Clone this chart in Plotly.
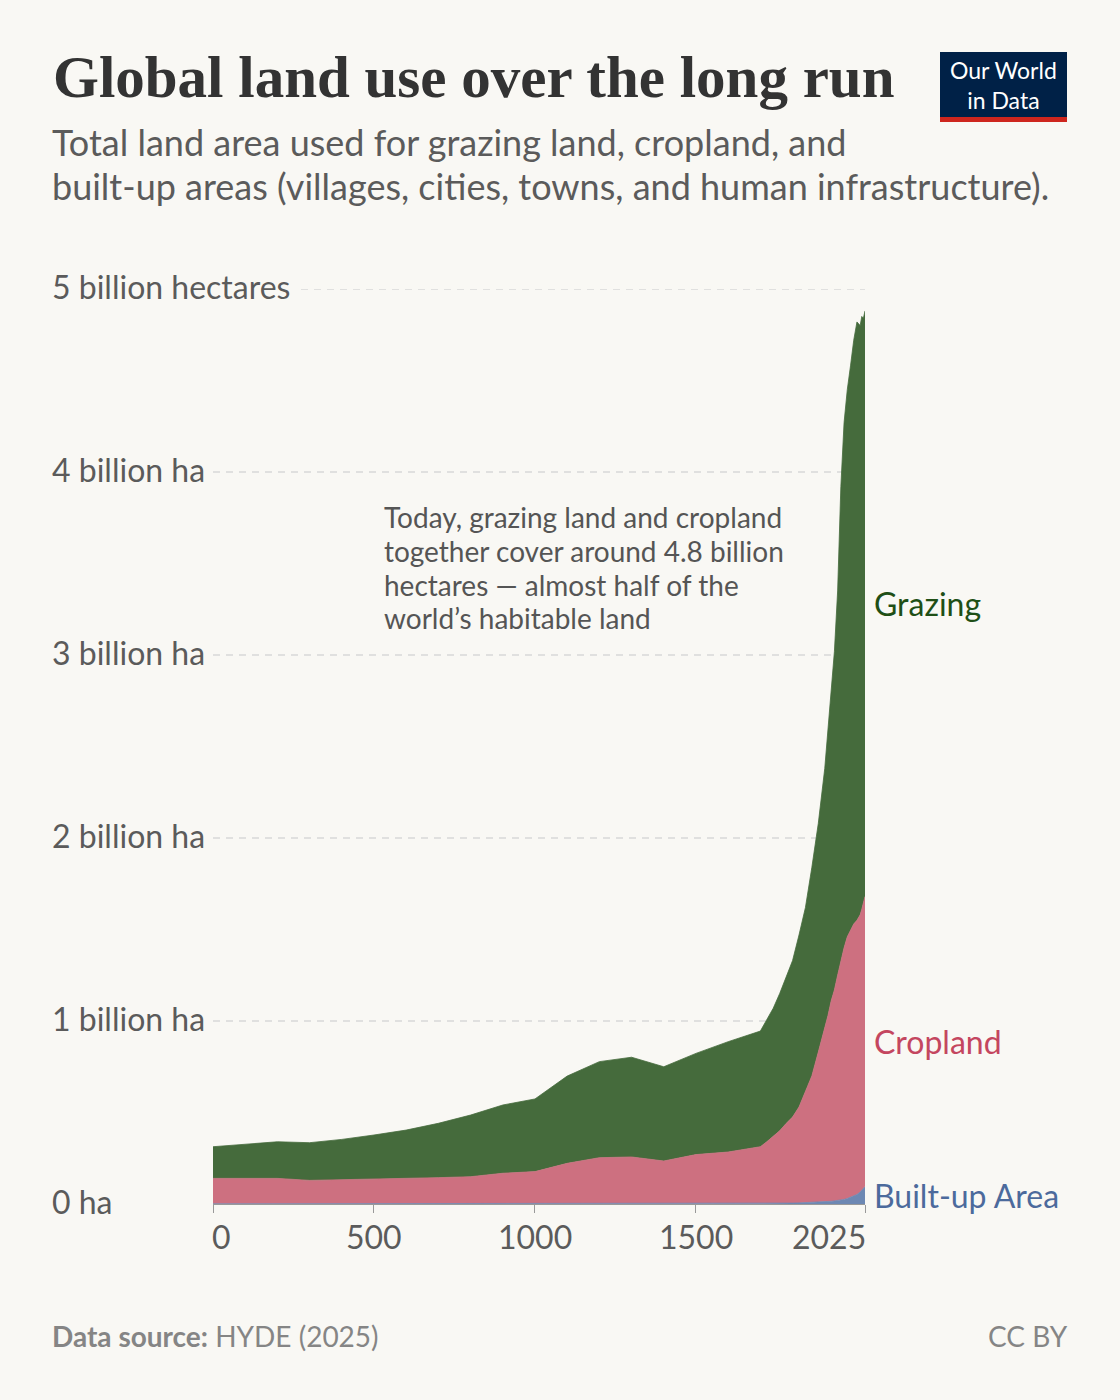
import plotly.graph_objects as go

# Years of the HYDE series
years = [0, 100, 200, 300, 400, 500, 600, 700, 800, 900, 1000, 1100, 1200,
         1300, 1400, 1500, 1600, 1700, 1720, 1740, 1760, 1780, 1800, 1820,
         1840, 1860, 1880, 1900, 1910, 1920, 1930, 1940, 1950, 1960, 1970,
         1980, 1990, 2000, 2010, 2015, 2020, 2025]

# Land area in billion hectares
built_up = [0.001, 0.001, 0.001, 0.001, 0.001, 0.001, 0.001, 0.001, 0.001,
            0.001, 0.001, 0.002, 0.002, 0.002, 0.002, 0.002, 0.002, 0.003,
            0.003, 0.003, 0.004, 0.004, 0.005, 0.006, 0.007, 0.008, 0.010,
            0.012, 0.013, 0.015, 0.017, 0.019, 0.021, 0.025, 0.030, 0.036,
            0.043, 0.052, 0.065, 0.074, 0.084, 0.095]
cropland = [0.139, 0.140, 0.139, 0.128, 0.131, 0.134, 0.138, 0.143, 0.148,
            0.167, 0.176, 0.220, 0.251, 0.255, 0.233, 0.268, 0.282, 0.310,
            0.337, 0.367, 0.396, 0.436, 0.470, 0.524, 0.603, 0.692, 0.820,
            0.948, 1.017, 1.095, 1.153, 1.231, 1.309, 1.375, 1.430, 1.464,
            1.487, 1.498, 1.515, 1.536, 1.556, 1.585]
grazing = [0.173, 0.187, 0.200, 0.206, 0.221, 0.242, 0.265, 0.297, 0.337,
           0.373, 0.397, 0.477, 0.525, 0.545, 0.515, 0.553, 0.603, 0.632,
           0.670, 0.700, 0.750, 0.800, 0.855, 0.940, 1.010, 1.140, 1.250,
           1.420, 1.550, 1.670, 1.850, 2.100, 2.590, 2.870, 2.990, 3.080,
           3.190, 3.270, 3.220, 3.240, 3.200, 3.200]

x_ticks = [0, 500, 1000, 1500, 2025]
y_ticks = [0, 1, 2, 3, 4, 5]
y_labels = ["0 ha", "1 billion ha", "2 billion ha", "3 billion ha",
            "4 billion ha", "5 billion hectares"]

BG = "#f9f8f4"
FONT = "Lato"
GREY = "#5b5b5b"

fig = go.Figure()
series = [
    ("Built-up Area", built_up, "#6d88b3", "#4c6a9c"),
    ("Cropland", cropland, "#cd7080", "#c4465f"),
    ("Grazing", grazing, "#456b3c", "#1f4f16"),
]
for name, vals, fill, _ in series:
    fig.add_trace(go.Scatter(
        x=years, y=vals, name=name, mode="lines", stackgroup="one",
        line=dict(width=0.8, color=fill), fillcolor=fill,
    ))

W, H = 1120, 1400
L, R, T, B = 213, 255, 289, 196
pw = W - L - R
ph = H - T - B


def px_y(y):
    # page pixel row -> paper y
    return (H - B - y) / ph


def px_x(x):
    return (x - L) / pw


fig.update_layout(
    width=W, height=H,
    margin=dict(l=L, r=R, t=T, b=B),
    paper_bgcolor=BG, plot_bgcolor=BG,
    showlegend=False,
    font=dict(family=FONT, color=GREY),
    xaxis=dict(range=[0, 2025], showgrid=False, zeroline=False,
               tickvals=x_ticks, showticklabels=False, ticks="outside",
               ticklen=8, tickcolor="#999999", showline=True,
               linecolor="#999999", linewidth=1),
    yaxis=dict(range=[0, 5], showgrid=False, zeroline=False,
               showticklabels=False),
)

# dashed gridlines + left labels
label_end = {1: 204, 2: 204, 3: 204, 4: 204, 5: 292}
for v, txt in zip(y_ticks, y_labels):
    if v > 0:
        fig.add_shape(type="line", xref="paper", yref="y",
                      x0=max(px_x(label_end[v] + 9), 0), x1=1, y0=v, y1=v,
                      layer="below",
                      line=dict(color="#d8d8d8", width=1.5, dash="7px,6px"))
    fig.add_annotation(xref="paper", yref="y", x=px_x(50), y=v, yshift=3,
                       text=txt, showarrow=False, xanchor="left",
                       yanchor="middle", font=dict(size=32, color=GREY))

# x tick labels
for t in x_ticks:
    anchor = "left" if t == x_ticks[0] else ("right" if t == x_ticks[-1] else "center")
    shift = -3 if anchor == "left" else (3 if anchor == "right" else 0)
    fig.add_annotation(xref="x", yref="paper", x=t, y=0, yshift=-32,
                       xshift=shift, text=str(t), showarrow=False,
                       xanchor=anchor, yanchor="middle",
                       font=dict(size=32, color=GREY))

# series labels at the right end
base = 0
for name, vals, _, lab in series:
    mid = base + vals[-1] / 2
    base += vals[-1]
    fig.add_annotation(xref="x", yref="y", x=years[-1], y=mid, xshift=7,
                       text=name, showarrow=False, xanchor="left",
                       yanchor="middle", font=dict(size=32, color=lab))

# in-chart note
note = ["Today, grazing land and cropland",
        "together cover around 4.8 billion",
        "hectares — almost half of the",
        "world’s habitable land"]
for line, yy in zip(note, [517, 551, 585, 618]):
    fig.add_annotation(xref="paper", yref="paper", x=px_x(382), y=px_y(yy),
                       xanchor="left", yanchor="middle", showarrow=False,
                       text=line, font=dict(size=28, color="#555555"))

# title and subtitle
fig.add_annotation(xref="paper", yref="paper", x=px_x(51), y=px_y(77),
                   xanchor="left", yanchor="middle", showarrow=False,
                   text="<b>Global land use over the long run</b>",
                   font=dict(family="Liberation Serif", size=59, color="#333333"))
subtitle = ["Total land area used for grazing land, cropland, and",
            "built-up areas (villages, cities, towns, and human infrastructure)."]
for line, yy in zip(subtitle, [142, 186]):
    fig.add_annotation(xref="paper", yref="paper", x=px_x(50), y=px_y(yy),
                       xanchor="left", yanchor="middle", showarrow=False,
                       text=line, font=dict(size=36, color="#5b5b5b"))

# footer
fig.add_annotation(xref="paper", yref="paper", x=px_x(50), y=px_y(1336),
                   xanchor="left", yanchor="middle", showarrow=False,
                   text="<b>Data source:</b> HYDE (2025)",
                   font=dict(size=28, color="#858585"))
fig.add_annotation(xref="paper", yref="paper", x=px_x(1070), y=px_y(1336),
                   xanchor="right", yanchor="middle", showarrow=False,
                   text="CC BY", font=dict(size=28, color="#858585"))

# logo
fig.add_shape(type="rect", xref="paper", yref="paper",
              x0=px_x(940), x1=px_x(1067), y0=px_y(117), y1=px_y(52),
              fillcolor="#002147", line=dict(width=0))
fig.add_shape(type="rect", xref="paper", yref="paper",
              x0=px_x(940), x1=px_x(1067), y0=px_y(122), y1=px_y(117),
              fillcolor="#ce261e", line=dict(width=0))
fig.add_annotation(xref="paper", yref="paper", x=px_x(1003.5),
                   y=px_y(85), xanchor="center", yanchor="middle",
                   showarrow=False, text="Our World<br>in Data", align="center",
                   font=dict(size=23, color="#ffffff"))

fig.write_html("out.html", config={"displayModeBar": False},
               post_script="document.body.style.margin='0';")
